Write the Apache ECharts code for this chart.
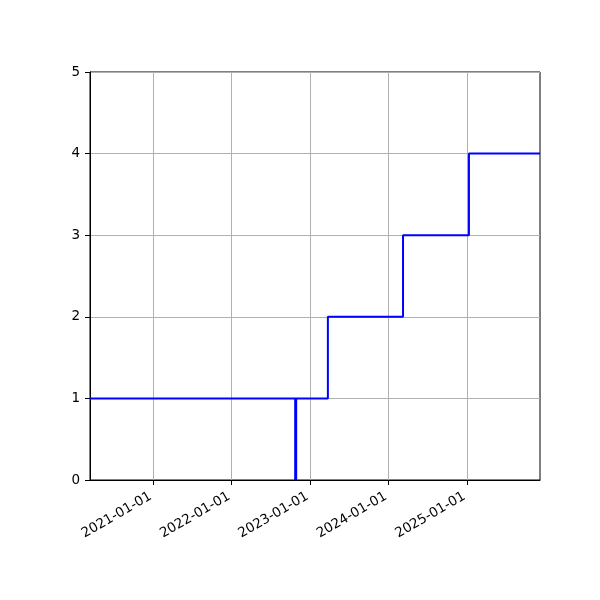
<!DOCTYPE html>
<html>
<head>
<meta charset="utf-8">
<script src="https://cdn.jsdelivr.net/npm/echarts@6/dist/echarts.min.js"></script>
<style>
  html, body { margin: 0; padding: 0; background: #fff; }
  #chart { width: 600px; height: 600px; }
</style>
</head>
<body>
<div id="chart"></div>
<script>
"use strict"
// step series (value holds until the next date)
const stepDates = ['2020-03-12', '2023-03-25', '2024-03-09', '2025-01-10', '2025-12-07'];
const stepValues = [1, 2, 3, 4, 4];
// single vertical marker line
const markDates = ['2022-10-26', '2022-10-26'];
const markValues = [0, 1];
// axis ticks
const xTickLabels = ['2021-01-01', '2022-01-01', '2023-01-01', '2024-01-01', '2025-01-01'];
const xMin = '2020-03-12';
const xMax = '2025-12-07';

const ts = s => new Date(s + 'T00:00:00Z').getTime();
const pad = n => (n < 10 ? '0' : '') + n;
const fmt = v => {
    let d = new Date(v);
    return d.getUTCFullYear() + '-' + pad(d.getUTCMonth() + 1) + '-' + pad(d.getUTCDate());
};

let chart = echarts.init(document.getElementById('chart'));
const font = 'DejaVu Sans';

chart.setOption({
    animation: false,
    grid: {
        left: 90, right: 60, top: 72, bottom: 120,
        show: true, borderColor: '#000', borderWidth: 1, backgroundColor: 'transparent'
    },
    xAxis: {
        type: 'value',
        min: ts(xMin),
        max: ts(xMax),
        axisLine: { show: true, lineStyle: { color: '#000', width: 1 } },
        axisTick: {
            show: true, length: 5, lineStyle: { color: '#000' },
            customValues: xTickLabels.map(ts)
        },
        axisLabel: {
            show: true, rotate: 30, color: '#000', fontFamily: font, fontSize: 13.5, margin: 14,
            padding: [0, 3, 0, 0],
            customValues: xTickLabels.map(ts),
            formatter: v => fmt(v)
        },
        splitLine: { show: true, lineStyle: { color: '#b0b0b0', width: 1 } }
    },
    yAxis: {
        type: 'value',
        min: 0, max: 5, interval: 1,
        axisLine: { show: true, lineStyle: { color: '#000', width: 1 } },
        axisTick: { show: true, length: 5, lineStyle: { color: '#000' } },
        axisLabel: { color: '#000', fontFamily: font, fontSize: 13.5, margin: 10 },
        splitLine: { show: true, lineStyle: { color: '#b0b0b0', width: 1 } }
    },
    series: [
        {
            type: 'line',
            step: 'end',
            data: stepDates.map((d, i) => [ts(d), stepValues[i]]),
            showSymbol: false,
            lineStyle: { color: '#0000ff', width: 2 },
            z: 3
        },
        {
            type: 'line',
            data: markDates.map((d, i) => [ts(d), markValues[i]]),
            showSymbol: false,
            lineStyle: { color: '#0000ff', width: 3 },
            z: 4
        }
    ]
});
</script>
</body>
</html>
